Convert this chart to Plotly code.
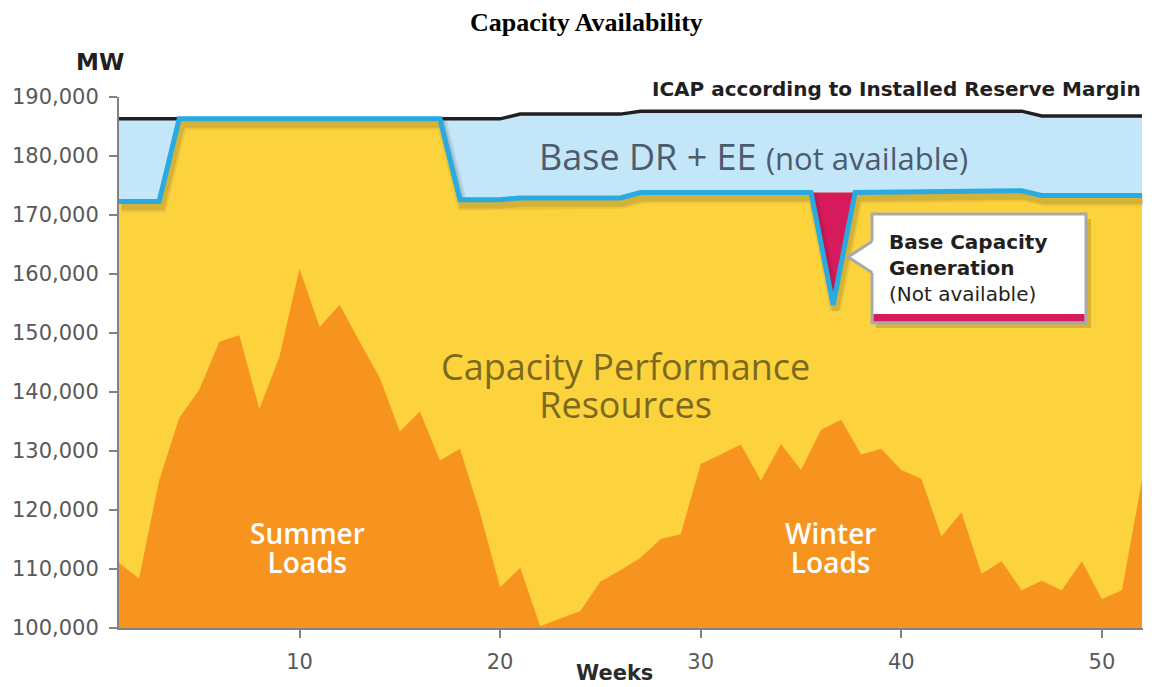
import plotly.graph_objects as go

# ---------------- data ----------------
weeks = list(range(1, 53))
load_mw = [111000, 108400, 125000, 135600, 140400, 148500, 149600, 137100, 146000, 160900,
           151000, 154800, 148500, 142400, 133300, 136700, 128400, 130400, 119500, 106900,
           110200, 100300, 101600, 102900, 107900, 109800, 111900, 115100, 115900, 127800,
           129400, 131100, 125000, 131200, 126800, 133600, 135300, 129400, 130400, 126800,
           125300, 115500, 119600, 109200, 111300, 106400, 108000, 106400, 111300, 104900,
           106400, 125100]

icap_weeks = [1, 20, 21, 26, 27, 46, 47, 52]
icap_mw = [186300, 186300, 187100, 187100, 187600, 187600, 186800, 186800]

avail_weeks = [1, 3, 4, 17, 18, 20, 21, 26, 27, 35.5, 36.6, 37.7, 46, 47, 52]
avail_base_mw = [172300, 172300, 186300, 186300, 172600, 172600, 172900, 172900, 173800,
                 173800, 173800, 173800, 174100, 173300, 173300]
gen_outage_mw = [0, 0, 0, 0, 0, 0, 0, 0, 0, 0, 19000, 0, 0, 0, 0]
avail_mw = [b - g for b, g in zip(avail_base_mw, gen_outage_mw)]

y_ticks = list(range(100000, 190001, 10000))
x_ticks = [10, 20, 30, 40, 50]

# ---------------- style ----------------
YELLOW = "#FDD33D"
ORANGE = "#F6941F"
LIGHTBLUE = "#C3E7F9"
BLUE = "#29ABE2"
CRIMSON = "#D71A5B"
BLACK = "#231F20"
GRAY = "#808285"
TICKCOL = "#58595B"

W, H = 1152, 687
ML, MR, MT, MB = 119, 9, 97, 59
PW, PH = W - ML - MR, H - MT - MB


def px(x):
    return (x - ML) / PW


def py(y):
    return (H - MB - y) / PH


fig = go.Figure()
skip = dict(hoverinfo="skip", showlegend=False)

# yellow capacity performance area
fig.add_trace(go.Scatter(x=avail_weeks, y=avail_base_mw, mode="lines", line=dict(width=0),
                         fill="tozeroy", fillcolor=YELLOW, **skip))
# light blue DR+EE band between ICAP and base availability
fig.add_trace(go.Scatter(x=icap_weeks, y=icap_mw, mode="lines", line=dict(width=0), **skip))
fig.add_trace(go.Scatter(x=avail_weeks, y=avail_base_mw, mode="lines", line=dict(width=0),
                         fill="tonexty", fillcolor=LIGHTBLUE, **skip))
# crimson generation outage notch
fig.add_trace(go.Scatter(x=avail_weeks, y=avail_base_mw, mode="lines", line=dict(width=0), **skip))
fig.add_trace(go.Scatter(x=avail_weeks, y=avail_mw, mode="lines", line=dict(width=0),
                         fill="tonexty", fillcolor=CRIMSON, **skip))
# orange loads
fig.add_trace(go.Scatter(x=weeks, y=load_mw, mode="lines", line=dict(width=0),
                         fill="tozeroy", fillcolor=ORANGE, **skip))
# shadow of the availability line
for w, op in [(11, 0.08), (7, 0.12)]:
    fig.add_trace(go.Scatter(x=[w_ + 0.12 for w_ in avail_weeks],
                             y=[v - 900 for v in avail_mw], mode="lines",
                             line=dict(width=w, color=f"rgba(40,40,40,{op})"), **skip))
# ICAP line
fig.add_trace(go.Scatter(x=icap_weeks, y=icap_mw, mode="lines",
                         line=dict(width=3.5, color=BLACK), **skip))
# availability line
fig.add_trace(go.Scatter(x=avail_weeks, y=avail_mw, mode="lines",
                         line=dict(width=5, color=BLUE), **skip))

tickfont = dict(family="DejaVu Sans", size=21, color=TICKCOL)
fig.update_xaxes(range=[1, 52.05], tickvals=x_ticks, ticktext=[str(t) for t in x_ticks],
                 showgrid=False, zeroline=False, showline=True, linecolor=GRAY, linewidth=2,
                 ticks="outside", ticklen=8, tickwidth=1.5, tickcolor=GRAY,
                 tickfont=tickfont, ticklabelstandoff=6)
fig.update_yaxes(range=[100000, 190000], tickvals=y_ticks,
                 ticktext=[f"{t:,}" for t in y_ticks],
                 showgrid=False, zeroline=False, showline=True, linecolor=GRAY, linewidth=2,
                 ticks="outside", ticklen=8, tickwidth=1.5, tickcolor=GRAY,
                 tickfont=tickfont, ticklabelstandoff=6)

ann = []


def add_text(text, x, y, size, color, family="Open Sans", xanchor="center", weight=None,
             align="center"):
    f = dict(family=family, size=size, color=color)
    if weight:
        f["weight"] = weight
    ann.append(dict(text=text, x=px(x), y=py(y), xref="paper", yref="paper",
                    xanchor=xanchor, yanchor="middle", showarrow=False, font=f, align=align,
                    borderpad=0))


def two_lines(l1, l2, glyph):
    s = f"<span style='font-size:{glyph}px'>"
    return f"{s}{l1}</span><br>{s}{l2}</span>"


add_text("<b>Capacity Availability</b>", 586, 22, 26, "#000000", family="Liberation Serif")
add_text("<b>MW</b>", 100, 62, 23, BLACK, family="DejaVu Sans")
add_text("<b>Weeks</b>", 614, 673, 21, "#2b2b2b", family="DejaVu Sans")
ann.append(dict(text="<b>ICAP according to Installed Reserve Margin</b>", x=1.0, y=py(89),
                xref="paper", yref="paper", xanchor="right", yanchor="middle",
                showarrow=False, font=dict(family="DejaVu Sans", size=20, color=BLACK)))
add_text("Base DR + EE <span style='font-size:31px'>(not available)</span>", 538, 157, 36,
         "#4D5B6E", xanchor="left")
# base size sets line spacing (1.3 x size); spans set glyph size
add_text(two_lines("Capacity Performance", "Resources", 36), 625, 385, 29.2, "#7B6A1E")
add_text(two_lines("Summer", "Loads", 28), 307, 547.5, 22.3, "#FFFFFF", weight=600)
add_text(two_lines("Winter", "Loads", 28), 830, 547.5, 22.3, "#FFFFFF", weight=600)
add_text("<b>Base Capacity</b><br><b>Generation</b><br>(Not available)", 888, 268, 20,
         "#231F20", family="DejaVu Sans", xanchor="left", align="left")

shapes = [
    # callout shadow
    dict(type="rect", xref="paper", yref="paper", x0=px(876), x1=px(1091), y0=py(328), y1=py(219),
         fillcolor="rgba(0,0,0,0.15)", line=dict(width=0)),
    # callout box
    dict(type="rect", xref="paper", yref="paper", x0=px(872), x1=px(1086), y0=py(323), y1=py(214),
         fillcolor="white", line=dict(color="#A7A9AC", width=3)),
    dict(type="rect", xref="paper", yref="paper", x0=px(873.5), x1=px(1084.5), y0=py(321.5),
         y1=py(314), fillcolor=CRIMSON, line=dict(width=0)),
    # pointer
    dict(type="path", xref="paper", yref="paper",
         path=f"M {px(875)},{py(240)} L {px(848)},{py(257)} L {px(875)},{py(274)} Z",
         fillcolor="white", line=dict(width=0)),
    dict(type="path", xref="paper", yref="paper",
         path=f"M {px(872)},{py(241.5)} L {px(848)},{py(257)} L {px(872)},{py(272.5)}",
         fillcolor="rgba(0,0,0,0)", line=dict(color="#A7A9AC", width=3)),
]

fig.update_layout(width=W, height=H, margin=dict(l=ML, r=MR, t=MT, b=MB),
                  paper_bgcolor="white", plot_bgcolor="white", showlegend=False,
                  annotations=ann, shapes=shapes)

fig.write_html("out.html", post_script="document.body.style.margin='0';",
               config={"displayModeBar": False})
